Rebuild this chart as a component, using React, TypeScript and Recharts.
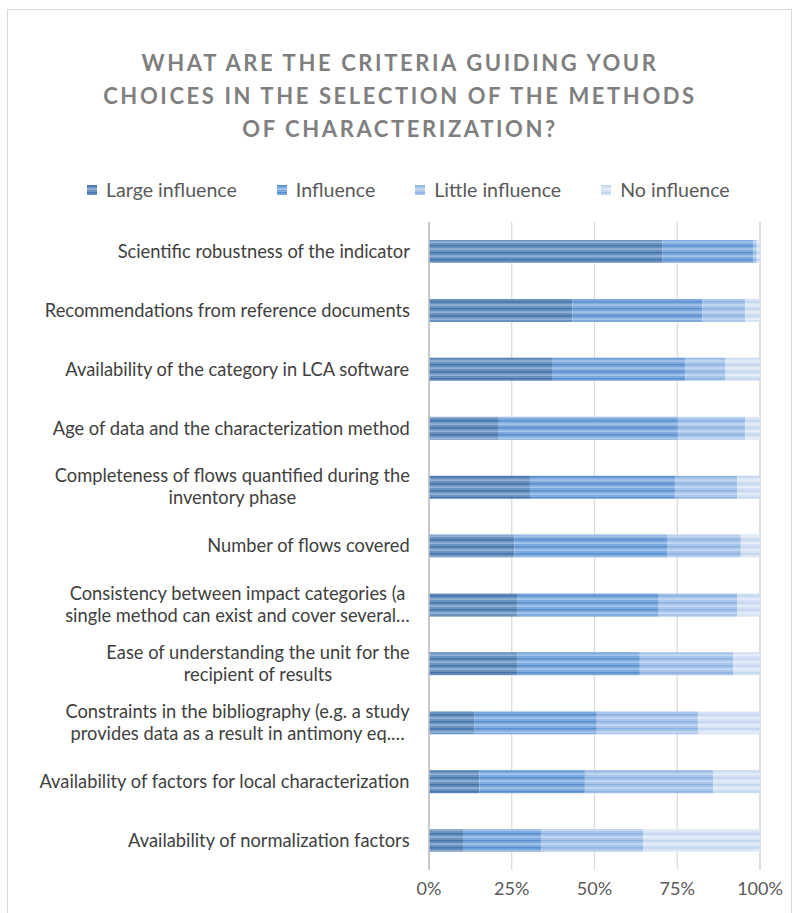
import React from "react";
import { BarChart, Bar, XAxis, YAxis, CartesianGrid } from "recharts";

const titleLines = [
  "WHAT ARE THE CRITERIA GUIDING YOUR",
  "CHOICES IN THE SELECTION OF THE METHODS",
  "OF CHARACTERIZATION?",
];

const categories = [
  "Scientific robustness of the indicator",
  "Recommendations from reference documents",
  "Availability of the category in LCA software",
  "Age of data and the characterization method",
  "Completeness of flows quantified during the\ninventory phase",
  "Number of flows covered",
  "Consistency between impact categories (a\nsingle method can exist and cover several…",
  "Ease of understanding the unit for the\nrecipient of results",
  "Constraints in the bibliography (e.g. a study\nprovides data as a result in antimony eq.…",
  "Availability of factors for local characterization",
  "Availability of normalization factors",
];

const largeInfluence = [70.6, 43.3, 37.4, 21.1, 30.5, 25.8, 26.8, 26.8, 13.8, 15.2, 10.5];
const influence = [27.4, 39.3, 40.1, 54.1, 43.8, 46.1, 42.6, 36.9, 36.9, 31.9, 23.5];
const littleInfluence = [1.0, 12.9, 12.1, 20.3, 18.8, 22.3, 23.7, 28.2, 30.6, 38.8, 30.7];
const noInfluence = [1.0, 4.5, 10.4, 4.5, 6.9, 5.8, 6.9, 8.1, 18.7, 14.1, 35.3];

const xTicks = [0, 25, 50, 75, 100];

const seriesNames = ["Large influence", "Influence", "Little influence", "No influence"];
const seriesKeys = ["large", "influence", "little", "none"];
const seriesColors = [
  { base: "#6a92c1", dark: "#4675ab", light: "#a6bfdd" },
  { base: "#7eaade", dark: "#5990cf", light: "#b6cfee" },
  { base: "#a9c6ea", dark: "#8cb3e2", light: "#d0e1f5" },
  { base: "#d5e3f4", dark: "#c2d6ef", light: "#ebf2fa" },
];

const data = categories.map((name, i) => ({
  name,
  large: largeInfluence[i],
  influence: influence[i],
  little: littleInfluence[i],
  none: noInfluence[i],
}));

const LABEL_FONT = "18.3px Lato";
let ctx: CanvasRenderingContext2D | null = null;
const measure = (t: string) => {
  if (!ctx) {
    const c = document.createElement("canvas");
    ctx = c.getContext("2d");
  }
  if (!ctx) return t.length * 8;
  ctx.font = LABEL_FONT;
  return ctx.measureText(t).width;
};

const CategoryTick = (props: any) => {
  const { x, y, payload } = props;
  const lines: string[] = String(payload.value).split("\n");
  const maxW = Math.max(...lines.map(measure));
  const cx = x - maxW / 2;
  const lh = 22;
  const startY = y - ((lines.length - 1) * lh) / 2;
  return (
    <g>
      {lines.map((l, i) => (
        <text
          key={i}
          x={cx}
          y={startY + i * lh}
          dy="0.35em"
          textAnchor="middle"
          fill="#404040"
          style={{ font: LABEL_FONT }}
        >
          {l}
        </text>
      ))}
    </g>
  );
};

const PatternDefs = ({ prefix }: { prefix: string }) => (
  <defs>
    {seriesKeys.map((k, i) => (
      <pattern
        key={k}
        id={`${prefix}-${k}`}
        patternUnits="userSpaceOnUse"
        width={8}
        height={7}
      >
        <rect width={8} height={7} fill={seriesColors[i].base} />
        <rect y={0} width={8} height={1.5} fill={seriesColors[i].dark} />
        <rect y={3.5} width={8} height={1.2} fill={seriesColors[i].light} />
      </pattern>
    ))}
  </defs>
);

export default function App() {
  return (
    <div
      style={{
        position: "absolute",
        left: 0,
        top: 0,
        width: 800,
        height: 913,
        overflow: "hidden",
        background: "#fff",
        fontFamily: "Lato, sans-serif",
      }}
    >
      <div
        style={{
          position: "absolute",
          left: 7,
          top: 9,
          width: 785,
          height: 940,
          border: "1px solid #d9d9d9",
          boxSizing: "border-box",
        }}
      />
      <div
        style={{
          position: "absolute",
          left: 0,
          top: 46,
          width: 800,
          textAlign: "center",
          fontWeight: 700,
          fontSize: 22,
          lineHeight: "33px",
          letterSpacing: 2.6,
          color: "#7f7f7f",
        }}
      >
        {titleLines.map((t, i) => (
          <div key={i}>{t}</div>
        ))}
      </div>
      <div
        style={{
          position: "absolute",
          left: 87,
          top: 177,
          display: "flex",
          gap: 40,
          fontSize: 19.6,
          color: "#595959",
          lineHeight: "26px",
          whiteSpace: "nowrap",
        }}
      >
        {seriesNames.map((n, i) => (
          <div key={n} style={{ display: "flex", alignItems: "center" }}>
            <svg width={10} height={10} style={{ marginRight: 9 }}>
              <PatternDefs prefix={`lg${i}`} />
              <rect width={10} height={10} fill={`url(#lg${i}-${seriesKeys[i]})`} />
            </svg>
            <span>{n}</span>
          </div>
        ))}
      </div>
      <div style={{ position: "absolute", left: 0, top: 0 }}>
        <BarChart
          width={800}
          height={913}
          data={data}
          layout="vertical"
          margin={{ top: 222, right: 40, bottom: 0, left: 0 }}
          barSize={23}
        >
          <PatternDefs prefix="pat" />
          <CartesianGrid horizontal={false} stroke="#d9d9d9" strokeWidth={1.2} />
          <XAxis
            type="number"
            domain={[0, 100]}
            ticks={xTicks}
            tickFormatter={(v: number) => `${v}%`}
            axisLine={false}
            tickLine={false}
            height={43}
            tickSize={6}
            tickMargin={6}
            tick={{ fill: "#595959", fontSize: 18, fontFamily: "Lato" }}
            interval={0}
          />
          <YAxis
            type="category"
            dataKey="name"
            width={429}
            axisLine={{ stroke: "#bfbfbf", strokeWidth: 1.5 }}
            tickLine={false}
            tickSize={0}
            tickMargin={19}
            tick={<CategoryTick />}
            interval={0}
          />
          {seriesKeys.map((k, i) => (
            <Bar
              key={k}
              dataKey={k}
              name={seriesNames[i]}
              stackId="s"
              fill={`url(#pat-${k})`}
              isAnimationActive={false}
            />
          ))}
        </BarChart>
      </div>
    </div>
  );
}
